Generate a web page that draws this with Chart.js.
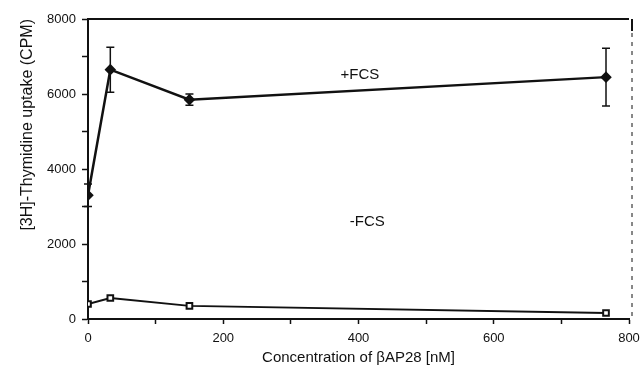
<!DOCTYPE html>
<html>
<head>
<meta charset="utf-8">
<script src="https://cdn.jsdelivr.net/npm/chart.js@4/dist/chart.umd.min.js"></script>
<style>
  html, body { margin: 0; padding: 0; background: #fff; }
  canvas { display: block; }
</style>
</head>
<body>
<canvas id="grafico" width="643" height="367"></canvas>
<script>
// Datos
const concentraciones = [0, 33, 150, 766];
const conFCS = [3300, 6650, 5850, 6450];
const errorConFCS = [300, 600, 150, 770];
const sinFCS = [400, 560, 350, 160];
const ticksX = [0, 200, 400, 600, 800];
const ticksY = [0, 2000, 4000, 6000, 8000];

// Etiquetas de las series dentro del area
const etiquetas = [
    { texto: '+FCS', x: 402, y: 6500 },
    { texto: '-FCS', x: 413, y: 2600 }
];

const fuente = 'Liberation Sans, Arial, sans-serif';

// Barras de error, marco superior/derecho y etiquetas
const pluginExtras = {
    id: 'extras',
    afterDatasetsDraw(chart) {
        const { ctx, chartArea, scales } = chart;
        const x = scales.x, y = scales.y;
        ctx.save();
        ctx.strokeStyle = '#111';
        // marco superior
        ctx.lineWidth = 2;
        ctx.beginPath();
        ctx.moveTo(chartArea.left, chartArea.top);
        ctx.lineTo(chartArea.right, chartArea.top);
        ctx.stroke();
        // borde derecho: solido arriba, punteado despues
        ctx.beginPath();
        ctx.moveTo(chartArea.right + 3, chartArea.top);
        ctx.lineTo(chartArea.right + 3, chartArea.top + 12);
        ctx.stroke();
        ctx.lineWidth = 1;
        ctx.setLineDash([4, 5]);
        ctx.beginPath();
        ctx.moveTo(chartArea.right + 3, chartArea.top + 14);
        ctx.lineTo(chartArea.right + 3, chartArea.bottom);
        ctx.stroke();
        ctx.setLineDash([]);

        // barras de error
        ctx.lineWidth = 1.5;
        concentraciones.forEach((c, i) => {
            const px = x.getPixelForValue(c);
            const arriba = y.getPixelForValue(conFCS[i] + errorConFCS[i]);
            const abajo = y.getPixelForValue(conFCS[i] - errorConFCS[i]);
            ctx.beginPath();
            ctx.moveTo(px, arriba);
            ctx.lineTo(px, abajo);
            ctx.moveTo(px - 4, arriba);
            ctx.lineTo(px + 4, arriba);
            ctx.moveTo(px - 4, abajo);
            ctx.lineTo(px + 4, abajo);
            ctx.stroke();
        });

        // etiquetas
        ctx.fillStyle = '#111';
        ctx.font = '15px ' + fuente;
        ctx.textAlign = 'center';
        ctx.textBaseline = 'middle';
        etiquetas.forEach(e => {
            ctx.fillText(e.texto, x.getPixelForValue(e.x), y.getPixelForValue(e.y));
        });
        ctx.restore();
    }
};

const ctx = document.getElementById('grafico').getContext('2d');
new Chart(ctx, {
    type: 'line',
    data: {
        datasets: [
            {
                label: '+FCS',
                data: concentraciones.map((c, i) => ({ x: c, y: conFCS[i] })),
                borderColor: '#111',
                borderWidth: 2.5,
                pointStyle: 'rectRot',
                pointRadius: 4,
                pointBackgroundColor: '#111',
                pointBorderColor: '#111',
                tension: 0
            },
            {
                label: '-FCS',
                data: concentraciones.map((c, i) => ({ x: c, y: sinFCS[i] })),
                borderColor: '#111',
                borderWidth: 2,
                pointStyle: 'rect',
                pointRadius: 4,
                pointBorderWidth: 2,
                pointBackgroundColor: '#fff',
                pointBorderColor: '#111',
                tension: 0
            }
        ]
    },
    options: {
        responsive: false,
        animation: false,
        layout: { padding: { top: 19, right: 14, left: 18, bottom: 0 } },
        plugins: {
            legend: { display: false },
            tooltip: { enabled: false }
        },
        scales: {
            x: {
                type: 'linear',
                min: 0,
                max: 800,
                afterFit: s => { s.height = 48; s.paddingRight = 0; },
                afterBuildTicks: s => {
                    const t = [];
                    for (let v = 0; v <= 800; v += 100) t.push({ value: v });
                    s.ticks = t;
                },
                ticks: {
                    color: '#111',
                    font: { family: fuente, size: 13 },
                    padding: 7,
                    maxRotation: 0,
                    callback: v => ticksX.includes(v) ? v : ''
                },
                grid: { drawOnChartArea: false, tickLength: 5, color: '#111', tickWidth: 1.5 },
                border: { color: '#111', width: 2 },
                title: {
                    display: true,
                    text: 'Concentration of βAP28 [nM]',
                    color: '#111',
                    font: { family: fuente, size: 15 },
                    padding: { top: 0, bottom: 0 }
                }
            },
            y: {
                min: 0,
                max: 8000,
                afterFit: s => { s.width = 70; },
                afterBuildTicks: s => {
                    const t = [];
                    for (let v = 0; v <= 8000; v += 1000) t.push({ value: v });
                    s.ticks = t;
                },
                ticks: {
                    color: '#111',
                    font: { family: fuente, size: 13 },
                    padding: 6,
                    callback: v => ticksY.includes(v) ? v : ''
                },
                grid: { drawOnChartArea: false, tickLength: 6, color: '#111', tickWidth: 1.5 },
                border: { color: '#111', width: 2 },
                title: {
                    display: true,
                    text: '[3H]-Thymidine uptake (CPM)',
                    color: '#111',
                    align: 'end',
                    font: { family: fuente, size: 16 },
                    padding: { top: 0, bottom: 3 }
                }
            }
        }
    },
    plugins: [pluginExtras]
});
</script>
</body>
</html>
